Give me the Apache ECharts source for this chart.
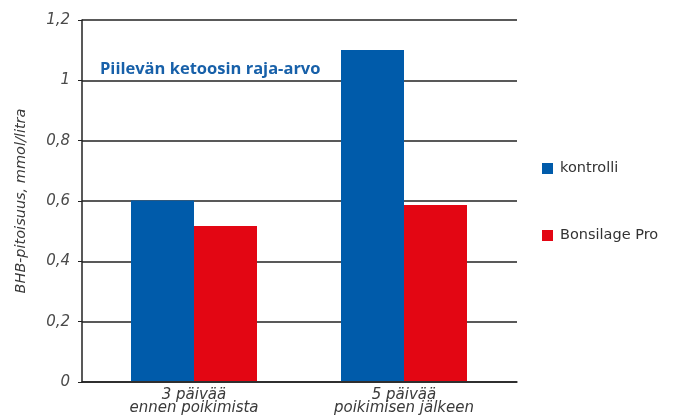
<!DOCTYPE html>
<html>
<head>
<meta charset="utf-8">
<script src="https://cdn.jsdelivr.net/npm/echarts@6/dist/echarts.min.js"></script>
<style>
  html, body { margin: 0; padding: 0; background: #fff; }
  #chart { width: 685px; height: 416px; }
</style>
</head>
<body>
<div id="chart"></div>
<script>
var categories = ["3 päivää\nennen poikimista", "5 päivää\npoikimisen jälkeen"];
var kontrolli = [0.6, 1.1];
var bonsilage = [0.515, 0.585];
var threshold = 1.0;
var thresholdName = "Piilevän ketoosin raja-arvo";

var font = "DejaVu Sans";
var chart = echarts.init(document.getElementById("chart"));

var option = {
  animation: false,
  textStyle: { fontFamily: font },
  grid: [
    { left: 82, right: 168, top: 20, bottom: 34 },
    { left: 89, right: 176, top: 20, bottom: 34 }
  ],
  legend: {
    orient: "vertical",
    left: 537,
    top: 156,
    itemGap: 52,
    itemWidth: 11,
    itemHeight: 11,
    icon: "rect",
    textStyle: { fontSize: 14.5, color: "#333", fontFamily: font, padding: [0, 0, 0, 2] },
    data: ["kontrolli", "Bonsilage Pro"]
  },
  xAxis: [
    {
      gridIndex: 0,
      type: "value",
      min: 0,
      max: 1,
      axisLine: { show: true, lineStyle: { color: "#222", width: 1.5 } },
      axisTick: { show: false },
      axisLabel: { show: false },
      splitLine: { show: false }
    },
    {
      gridIndex: 1,
      type: "category",
      data: categories,
      axisLine: { show: false },
      axisTick: { show: false },
      axisLabel: {
        margin: 8,
        fontSize: 15,
        lineHeight: 13,
        fontStyle: "italic",
        color: "#3a3a3a",
        fontFamily: font
      }
    }
  ],
  yAxis: [
    {
      gridIndex: 0,
      type: "value",
      min: 0,
      max: 1.2,
      interval: 0.2,
      name: "BHB-pitoisuus, mmol/litra",
      nameLocation: "middle",
      nameRotate: 90,
      nameGap: 53,
      nameTextStyle: { fontSize: 14.5, fontStyle: "italic", color: "#3a3a3a", fontFamily: font },
      axisLine: { show: true, lineStyle: { color: "#222", width: 1.5 } },
      axisTick: { show: true, inside: false, length: 4, lineStyle: { color: "#222" } },
      axisLabel: {
        margin: 12,
        fontSize: 15,
        fontStyle: "italic",
        color: "#4a4a4a",
        fontFamily: font,
        formatter: function (v) {
          return String(Math.round(v * 10) / 10).replace(".", ",");
        }
      },
      splitLine: { show: true, lineStyle: { color: "#222", width: 1.5 } }
    },
    {
      gridIndex: 1,
      type: "value",
      min: 0,
      max: 1.2,
      show: false
    }
  ],
  series: [
    {
      name: "kontrolli",
      type: "bar",
      xAxisIndex: 1,
      yAxisIndex: 1,
      data: kontrolli,
      barWidth: 63,
      barGap: "0%",
      itemStyle: { color: "#005BAA" },
      markLine: {
        silent: true,
        symbol: ["none", "none"],
        lineStyle: { color: "rgba(0,0,0,0)", width: 1 },
        label: {
          show: true,
          position: "insideStartTop",
          distance: [11, 2],
          formatter: thresholdName,
          fontSize: 16.5,
          fontWeight: "bold",
          color: "#1760A9",
          fontFamily: "Open Sans"
        },
        data: [{ yAxis: threshold }]
      }
    },
    {
      name: "Bonsilage Pro",
      type: "bar",
      xAxisIndex: 1,
      yAxisIndex: 1,
      data: bonsilage,
      barWidth: 63,
      barGap: "0%",
      itemStyle: { color: "#E30613" }
    }
  ]
};

chart.setOption(option);
</script>
</body>
</html>
